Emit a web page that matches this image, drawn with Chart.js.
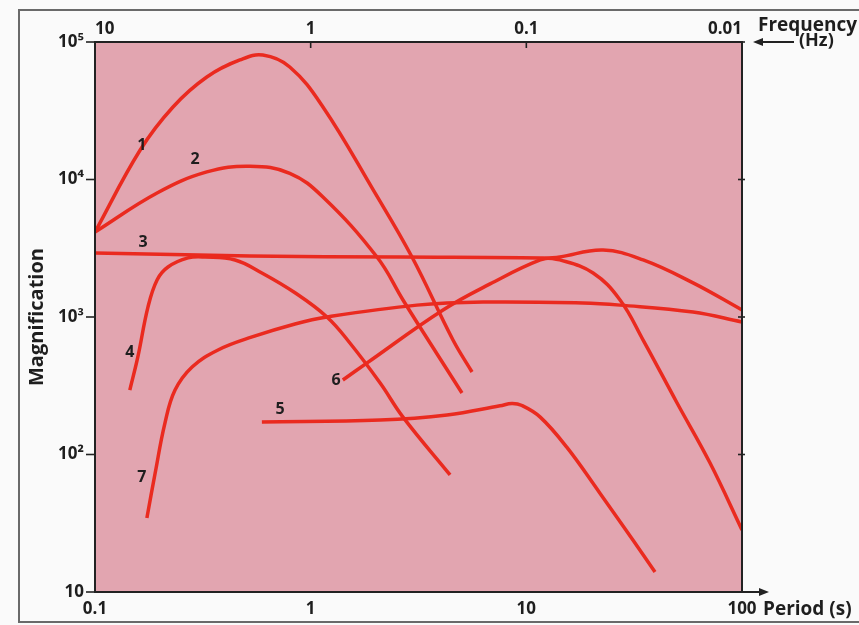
<!DOCTYPE html>
<html><head><meta charset="utf-8">
<script src="https://cdn.jsdelivr.net/npm/chart.js@4"></script>
<style>html,body{margin:0;padding:0;background:#fafafa;}canvas{display:block;}</style>
</head><body>
<canvas id="c" width="859" height="625"></canvas>
<script>
// ---- tick values / labels ----
const periodTicks = [0.1, 1, 10, 100];
const periodTickLabels = ['0.1', '1', '10', '100'];
const freqTicks = [0.01, 0.1, 1, 10];
const freqTickLabels = ['0.01', '0.1', '1', '10'];
const magTicks = [10, 100, 1000, 10000, 100000];
const magTickLabels = ['10', '10²', '10³', '10⁴', '10⁵'];

// ---- curves: period (s) and magnification ----
const c1Period = [0.1, 0.162, 0.23, 0.33, 0.47, 0.6, 0.8, 1.14, 1.95, 2.95, 4.57, 5.6];
const c1Mag    = [4150, 16400, 33700, 55600, 74000, 80400, 65800, 33700, 8400, 2730, 680, 398];

const c2Period = [0.1, 0.194, 0.33, 0.523, 0.8, 1.14, 2.03, 2.68, 3.21, 5.03];
const c2Mag    = [4150, 7980, 11350, 12500, 11100, 7460, 2730, 1330, 846, 280];

const c3Period = [0.1, 0.523, 2.6, 11.6, 14.3, 20.4, 27.2, 34.8, 50, 71.1, 100];
const c3Mag    = [2920, 2780, 2730, 2690, 2600, 2090, 1330, 680, 237, 86.7, 28.3];

const c4Period = [0.145, 0.158, 0.176, 0.194, 0.218, 0.27, 0.324, 0.446, 0.594, 0.846, 1.19, 1.52, 2.1, 2.68, 4.43];
const c4Mag    = [294, 512, 1180, 1860, 2310, 2690, 2730, 2600, 2090, 1500, 1000, 647, 331, 187, 71];

const c5Period = [0.594, 2.1, 4.29, 7.55, 8.58, 9.55, 11.6, 15.4, 21.9, 31.2, 39.5];
const c5Mag    = [172, 178, 194, 226, 235, 227, 187, 113, 52.5, 23.9, 14.0];

const c6Period = [1.41, 1.82, 4.11, 6.79, 11.6, 14.3, 22.7, 34.8, 59.3, 100];
const c6Mag    = [348, 462, 1125, 1740, 2600, 2730, 3070, 2600, 1770, 1125];

const c7Period = [0.174, 0.19, 0.211, 0.235, 0.282, 0.372, 0.535, 0.846, 1.19, 3.11, 6.3, 18.3, 27.2, 59.3, 100];
const c7Mag    = [34.5, 73, 169, 294, 433, 576, 716, 890, 1000, 1220, 1285, 1265, 1220, 1087, 920];

// ---- curve number labels (anchored in data coordinates) ----
const curveLabels = ['1', '2', '3', '4', '5', '6', '7'];
const labelPeriod = [0.165, 0.291, 0.167, 0.145, 0.721, 1.31, 0.165];
const labelMag    = [17800, 13900, 3510, 556, 211, 348, 68.6];

const FONT = '"Open Sans", Lato, "DejaVu Sans", sans-serif';
const INK = '#1e1e1e';
const RED = '#ea2a1f';
const PLOT_BG = '#e2a5b0';

function pts(p, m) { return p.map((v, i) => ({ x: v, y: m[i] })); }
const series = [
  [c1Period, c1Mag], [c2Period, c2Mag], [c3Period, c3Mag], [c4Period, c4Mag],
  [c5Period, c5Mag], [c6Period, c6Mag], [c7Period, c7Mag]
];

const decor = {
  id: 'decor',
  beforeDraw(chart) {
    const ctx = chart.ctx, ca = chart.chartArea;
    ctx.save();
    ctx.fillStyle = '#fafafa';
    ctx.fillRect(0, 0, chart.width, chart.height);
    // outer frame
    ctx.strokeStyle = '#6a6a6a';
    ctx.lineWidth = 2;
    ctx.strokeRect(ca.left - 76, ca.top - 32, chart.width + 40, ca.bottom - ca.top + 62);
    // plot background
    ctx.fillStyle = PLOT_BG;
    ctx.fillRect(ca.left, ca.top, ca.right - ca.left, ca.bottom - ca.top);
    ctx.restore();
  },
  afterDatasetsDraw(chart) {
    const ctx = chart.ctx, ca = chart.chartArea;
    const xs = chart.scales.x, ys = chart.scales.y, x2 = chart.scales.x2;
    ctx.save();
    // plot border
    ctx.strokeStyle = '#222';
    ctx.lineWidth = 2;
    ctx.strokeRect(ca.left, ca.top, ca.right - ca.left, ca.bottom - ca.top);
    // tick marks
    ctx.lineWidth = 1.6;
    magTicks.forEach(v => {
      const y = ys.getPixelForValue(v);
      ctx.beginPath(); ctx.moveTo(ca.left - 9, y); ctx.lineTo(ca.left, y); ctx.stroke();
      ctx.beginPath(); ctx.moveTo(ca.right - 4, y); ctx.lineTo(ca.right + 3, y); ctx.stroke();
    });
    freqTicks.forEach(v => {
      const x = x2.getPixelForValue(v);
      ctx.beginPath(); ctx.moveTo(x, ca.top); ctx.lineTo(x, ca.top + 6); ctx.stroke();
    });
    // bottom axis arrow
    ctx.lineWidth = 2;
    ctx.beginPath(); ctx.moveTo(ca.right, ca.bottom); ctx.lineTo(ca.right + 20, ca.bottom); ctx.stroke();
    ctx.fillStyle = '#222';
    ctx.beginPath();
    ctx.moveTo(ca.right + 27, ca.bottom); ctx.lineTo(ca.right + 17, ca.bottom - 4); ctx.lineTo(ca.right + 17, ca.bottom + 4);
    ctx.closePath(); ctx.fill();
    // top frequency arrow (pointing left)
    ctx.beginPath(); ctx.moveTo(ca.right + 52, ca.top); ctx.lineTo(ca.right + 18, ca.top); ctx.stroke();
    ctx.beginPath();
    ctx.moveTo(ca.right + 11, ca.top); ctx.lineTo(ca.right + 21, ca.top - 4); ctx.lineTo(ca.right + 21, ca.top + 4);
    ctx.closePath(); ctx.fill();
    // axis words
    ctx.fillStyle = INK;
    ctx.font = 'bold 19px ' + FONT;
    ctx.textBaseline = 'middle';
    ctx.textAlign = 'left';
    ctx.fillText('Period (s)', ca.right + 21, xs.top + 18);
    ctx.fillText('Frequency', ca.right + 16, 26);
    ctx.font = 'bold 18px ' + FONT;
    ctx.fillText('(Hz)', ca.right + 57, 41);
    // curve numbers
    ctx.font = 'bold 16px ' + FONT;
    ctx.textAlign = 'center';
    curveLabels.forEach((t, i) => {
      ctx.fillText(t, xs.getPixelForValue(labelPeriod[i]), ys.getPixelForValue(labelMag[i]));
    });
    ctx.restore();
  }
};

const tickFont = { family: FONT, size: 17, weight: 'bold' };

new Chart(document.getElementById('c'), {
  type: 'scatter',
  data: {
    datasets: series.map((s, i) => ({
      label: curveLabels[i],
      data: pts(s[0], s[1]),
      showLine: true,
      borderColor: RED,
      backgroundColor: RED,
      borderWidth: 3.5,
      pointRadius: 0,
      tension: 0.4,
      xAxisID: 'x', yAxisID: 'y'
    }))
  },
  options: {
    responsive: false,
    animation: false,
    devicePixelRatio: 1,
    layout: { padding: { left: 0, right: 117, top: 0, bottom: 0 } },
    plugins: { legend: { display: false }, tooltip: { enabled: false } },
    scales: {
      x: {
        type: 'logarithmic', position: 'bottom', min: 0.1, max: 100,
        afterBuildTicks: s => { s.ticks = periodTicks.map(v => ({ value: v })); },
        afterFit: s => { s.height = 33; },
        grid: { display: false, drawTicks: false }, border: { display: false },
        ticks: { callback: v => periodTickLabels[periodTicks.indexOf(v)], font: tickFont, color: INK, padding: 7, maxRotation: 0, autoSkip: false }
      },
      x2: {
        type: 'logarithmic', position: 'top', min: 0.01, max: 10, reverse: true,
        afterBuildTicks: s => { s.ticks = freqTicks.map(v => ({ value: v })); },
        afterFit: s => { s.height = 42; },
        grid: { display: false, drawTicks: false }, border: { display: false },
        ticks: { callback: v => freqTickLabels[freqTicks.indexOf(v)], font: tickFont, color: INK, padding: 3, maxRotation: 0, autoSkip: false, align: 'inner' }
      },
      y: {
        type: 'logarithmic', position: 'left', min: 10, max: 100000,
        afterBuildTicks: s => { s.ticks = magTicks.map(v => ({ value: v })); },
        afterFit: s => { s.width = 95; },
        grid: { display: false, drawTicks: false }, border: { display: false },
        ticks: { callback: v => magTickLabels[magTicks.indexOf(v)], font: tickFont, color: INK, padding: 11, autoSkip: false },
        title: { display: true, text: 'Magnification', color: INK, font: { family: FONT, size: 20, weight: 'bold' }, padding: { top: 25, bottom: 0 } }
      }
    }
  },
  plugins: [decor]
});
</script>
</body></html>
